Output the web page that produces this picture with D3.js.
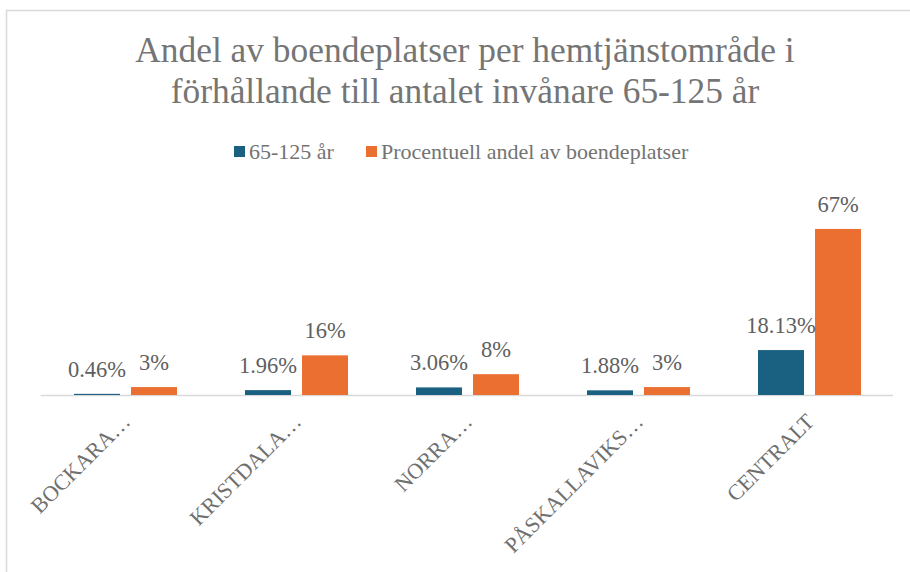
<!DOCTYPE html>
<html>
<head>
<meta charset="utf-8">
<script src="https://cdn.jsdelivr.net/npm/d3@7"></script>
<style>
  html, body { margin: 0; padding: 0; background: #fff; }
  svg { display: block; }
  text { font-family: "Liberation Serif", "Times New Roman", serif; }
</style>
</head>
<body>
<svg id="chart" width="910" height="572"></svg>
<script>
// ---- data ----
const titleLines = ["Andel av boendeplatser per hemtjänstområde i", "förhållande till antalet invånare 65-125 år"];
const categories = ["BOCKARA…", "KRISTDALA…", "NORRA…", "PÅSKALLAVIKS…", "CENTRALT"];
const seriesNames = ["65-125 år", "Procentuell andel av boendeplatser"];
const invanare = [0.46, 1.96, 3.06, 1.88, 18.13];      // %
const boendeplatser = [3.2, 16, 8.4, 3.2, 67];           // %
const labelFormats = [d3.format(".2f"), d3.format(".0f")];
const colors = ["#1a6080", "#eb6f30"];

const seriesValues = [invanare, boendeplatser];

const svg = d3.select("#chart");
const W = 910, H = 572;

// frame
svg.append("rect")
  .attr("x", 6.5).attr("y", 10.5)
  .attr("width", W + 10).attr("height", H + 10)
  .attr("fill", "#fff").attr("stroke", "#d9d9d9").attr("stroke-width", 1.5);

// title
const title = svg.append("text")
  .attr("text-anchor", "middle")
  .attr("fill", "#757575")
  .attr("font-size", 35.4);
titleLines.forEach((t, i) => {
  title.append("tspan").attr("x", 465).attr("y", 62 + i * 41).text(t);
});

// legend
const legend = svg.append("g").attr("font-size", 22);
const legendX = [234, 366];
seriesNames.forEach((s, i) => {
  legend.append("rect")
    .attr("x", legendX[i]).attr("y", 146)
    .attr("width", 11).attr("height", 11)
    .attr("fill", colors[i]);
  legend.append("text")
    .attr("x", legendX[i] + 15).attr("y", 159)
    .attr("fill", "#737373")
    .text(s);
});

// scales
const baseY = 395;
const x0 = d3.scaleBand().domain(categories).range([40, 895]).padding(0);
const x1 = d3.scaleBand().domain(d3.range(seriesNames.length))
  .range([34, x0.bandwidth() - 34]).paddingInner(11 / 57).paddingOuter(0);
const y = d3.scaleLinear().domain([0, 70]).range([baseY, baseY - 173.5]);

// axis baseline
const xAxis = d3.axisBottom(x0).tickSize(0).tickFormat("");
const axisG = svg.append("g").attr("transform", `translate(0,${baseY + 0.5})`).call(xAxis);
axisG.select(".domain").attr("stroke", "#d9d9d9").attr("stroke-width", 1.3)
  .attr("d", `M${x0.range()[0] + 0.7},0H893`);

// bars
const groups = svg.append("g").selectAll("g")
  .data(categories)
  .join("g")
  .attr("transform", d => `translate(${x0(d)},0)`);

groups.selectAll("rect")
  .data((d, ci) => seriesValues.map((vals, si) => ({ si, v: vals[ci] })))
  .join("rect")
  .attr("x", d => x1(d.si))
  .attr("width", x1.bandwidth())
  .attr("y", d => y(d.v))
  .attr("height", d => baseY - y(d.v))
  .attr("fill", d => colors[d.si]);

groups.selectAll("text.lbl")
  .data((d, ci) => seriesValues.map((vals, si) => ({ si, v: vals[ci] })))
  .join("text")
  .attr("class", "lbl")
  .attr("x", d => x1(d.si) + x1.bandwidth() / 2)
  .attr("y", d => y(d.v) - 17)
  .attr("text-anchor", "middle")
  .attr("font-size", 22.5)
  .attr("fill", "#5f5f5f")
  .text(d => labelFormats[d.si](d.v) + "%");

// category labels
svg.append("g").selectAll("text.cat")
  .data(categories)
  .join("text")
  .attr("class", "cat")
  .attr("text-anchor", "end")
  .attr("font-size", 22)
  .attr("fill", "#6f6f6f")
  .attr("transform", d => `translate(${x0(d) + x0.bandwidth() / 2 + 6},423) rotate(-45)`)
  .text(d => d);
</script>
</body>
</html>
